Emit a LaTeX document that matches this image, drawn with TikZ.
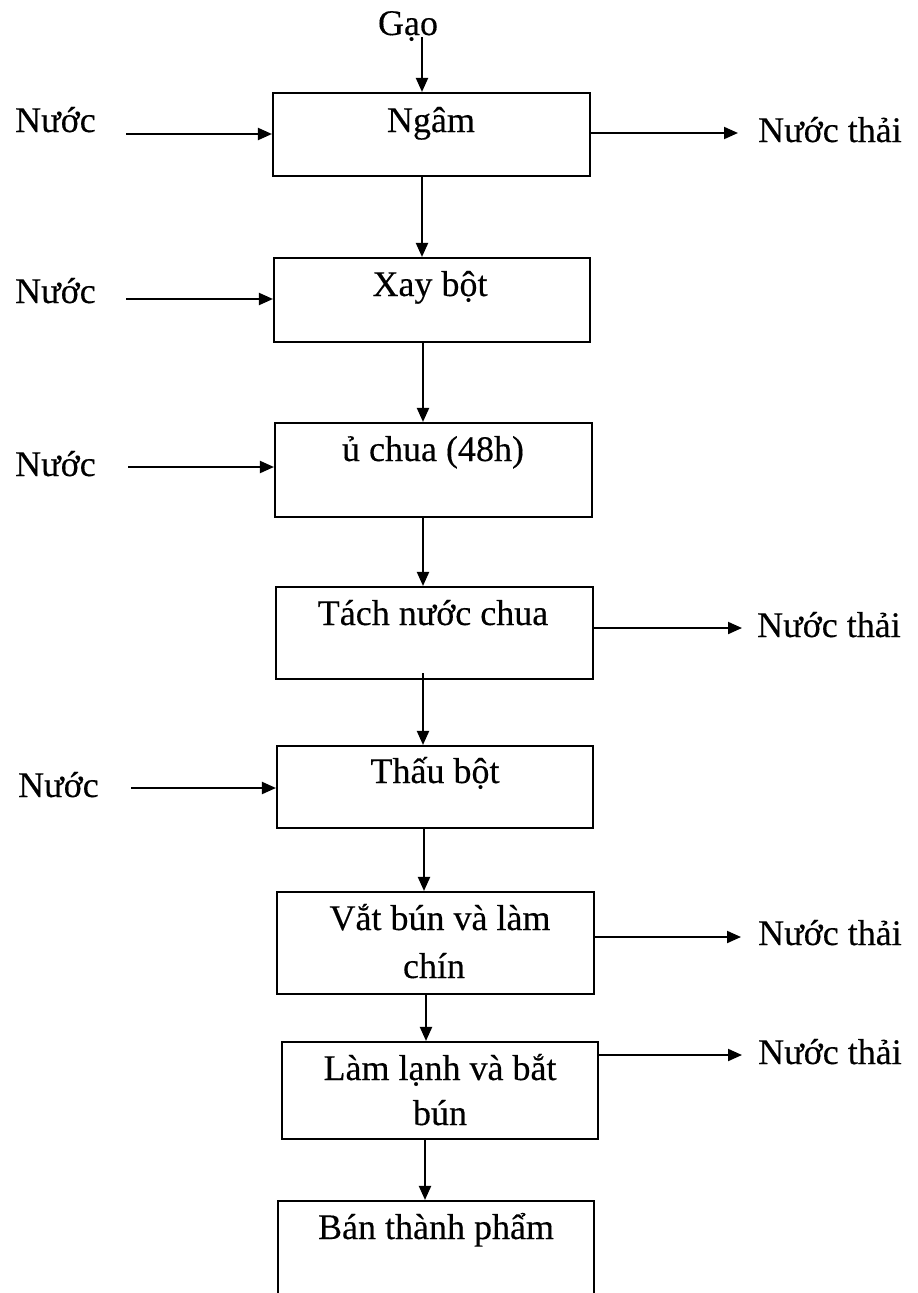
\documentclass[tikz,border=0pt]{standalone}
\usepackage{fontspec}
\setmainfont{Liberation Serif}[FakeBold=0.3]
\usetikzlibrary{arrows.meta}
\begin{document}
\begin{tikzpicture}[x=1pt,y=-1pt,
  box/.style={draw, line width=2.1pt, inner sep=0pt},
  lbl/.style={anchor=base, inner sep=0pt, font=\fontsize{36}{44}\selectfont},
  lblw/.style={lbl, anchor=base west},
  arr/.style={-{Triangle[length=14pt,width=12pt]}, line width=2pt}]
\useasboundingbox (0,0) rectangle (918,1293);
\clip (0,0) rectangle (918,1293);
% boxes
\node[box, minimum width=317pt, minimum height=83pt]  (b1) at (431.5,134.5) {};
\node[box, minimum width=316pt, minimum height=84pt]  (b2) at (432,300) {};
\node[box, minimum width=317pt, minimum height=94pt]  (b3) at (433.5,470) {};
\node[box, minimum width=317pt, minimum height=92pt]  (b4) at (434.5,633) {};
\node[box, minimum width=316pt, minimum height=82pt]  (b5) at (435,787) {};
\node[box, minimum width=317pt, minimum height=102pt] (b6) at (435.5,943) {};
\node[box, minimum width=316pt, minimum height=97pt]  (b7) at (440,1090.5) {};
\node[box, minimum width=316pt, minimum height=109pt] (b8) at (436,1255.5) {};
% box texts
\node[lbl] (t1) at (431,132) {Ngâm};
\node[lbl] (t2) at (430,296) {Xay bột};
\node[lbl] (t3) at (433,461) {ủ chua (48h)};
\node[lbl] (t4) at (433,625) {Tách nước chua};
\node[lbl] (t5) at (435,783) {Thấu bột};
\node[lbl] (t6a) at (440,930) {Vắt bún và làm};
\node[lbl] (t6b) at (434,978) {chín};
\node[lbl] (t7a) at (440,1080) {Làm lạnh và bắt};
\node[lbl] (t7b) at (440,1125) {bún};
\node[lbl] (t8) at (436,1239) {Bán thành phẩm};
% input Gao
\node[lbl] (gao) at (408,35) {Gạo};
\coordinate (g0) at (422,37);
\draw[arr] (g0) -- (g0 |- b1.north);
% vertical flow
\draw[arr] ([xshift=-9.5]b1.south) -- ([xshift=-9.5]b1.south |- b2.north);
\draw[arr] ([xshift=-9]b2.south) -- ([xshift=-9]b2.south |- b3.north);
\draw[arr] ([xshift=-10.5]b3.south) -- ([xshift=-10.5]b3.south |- b4.north);
\draw[arr] ([xshift=-11.5,yshift=7]b4.south) -- ([xshift=-11.5]b4.south |- b5.north);
\draw[arr] ([xshift=-11]b5.south) -- ([xshift=-11]b5.south |- b6.north);
\draw[arr] ([xshift=-9.5]b6.south) -- ([xshift=-9.5]b6.south |- b7.north);
\draw[arr] ([xshift=-15]b7.south) -- ([xshift=-15]b7.south |- b8.north);
% water inputs
\node[lblw] (n1) at (15,132) {Nước};
\node[lblw] (n2) at (15,303) {Nước};
\node[lblw] (n3) at (15,476) {Nước};
\node[lblw] (n4) at (18,797) {Nước};
\coordinate (l1) at (126,134);
\coordinate (l2) at (126,299);
\coordinate (l3) at (128,467);
\coordinate (l4) at (131,788);
\draw[arr] (l1) -- (b1.west |- l1);
\draw[arr] (l2) -- (b2.west |- l2);
\draw[arr] (l3) -- (b3.west |- l3);
\draw[arr] (l4) -- (b5.west |- l4);
% waste outputs
\coordinate (r1) at (738,133);
\coordinate (r2) at (742,628);
\coordinate (r3) at (741,937);
\coordinate (r4) at (742,1055);
\draw[arr] (b1.east |- r1) -- (r1);
\draw[arr] (b4.east |- r2) -- (r2);
\draw[arr] (b6.east |- r3) -- (r3);
\draw[arr] (b7.east |- r4) -- (r4);
\node[lblw] (w1) at (758,142) {Nước thải};
\node[lblw] (w2) at (757,637) {Nước thải};
\node[lblw] (w3) at (758,945) {Nước thải};
\node[lblw] (w4) at (758,1064) {Nước thải};
\end{tikzpicture}
\end{document}
